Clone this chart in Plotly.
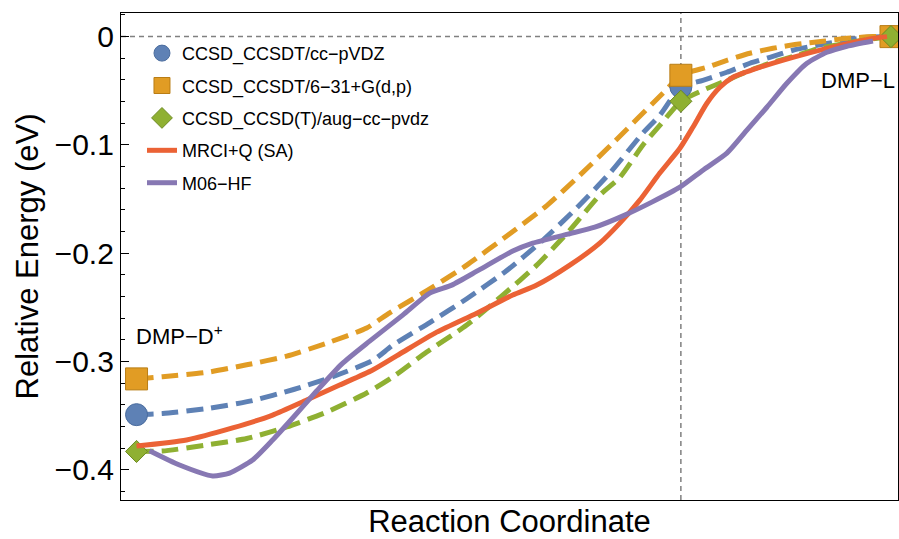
import plotly.graph_objects as go

# ---------------- data ----------------
# stationary points (reaction coordinate, relative energy in eV)
stat_x = [0.0, 0.7215, 1.0]
stat_pvdz = [-0.349, -0.0465, 0.0]
stat_631 = [-0.316, -0.0357, 0.0]
stat_aug = [-0.383, -0.0597, 0.0]

# dashed connecting curves
pvdz_x = [0.0, 0.0345, 0.0968, 0.1538, 0.207, 0.26, 0.313, 0.3395, 0.3886, 0.4377,
          0.4907, 0.5385, 0.5836, 0.6273, 0.671, 0.6936, 0.7215, 0.7507, 0.7825,
          0.813, 0.8395, 0.870, 0.9019, 0.9324, 0.9682, 1.0]
pvdz_y = [-0.349, -0.348, -0.343, -0.336, -0.326, -0.314, -0.299, -0.285, -0.264, -0.242,
          -0.216, -0.188, -0.158, -0.126, -0.0892, -0.0726, -0.0465, -0.0403, -0.0329,
          -0.0246, -0.0191, -0.0126, -0.008, -0.0043, -0.0006, 0.0]

b631_x = [0.0, 0.0345, 0.0928, 0.146, 0.199, 0.252, 0.305, 0.3355, 0.3886, 0.4377,
          0.4907, 0.5438, 0.5875, 0.6313, 0.6976, 0.7215, 0.756, 0.7825, 0.813,
          0.8435, 0.8753, 0.9098, 0.9416, 0.9761, 1.0]
b631_y = [-0.316, -0.314, -0.310, -0.303, -0.295, -0.283, -0.269, -0.255, -0.233, -0.211,
          -0.184, -0.156, -0.128, -0.0984, -0.0523, -0.0357, -0.0283, -0.0219, -0.0154,
          -0.0108, -0.0071, -0.0043, -0.0016, 0.0, 0.0]

aug_x = [0.0, 0.0345, 0.0928, 0.146, 0.199, 0.252, 0.305, 0.3395, 0.3846, 0.4377,
         0.4854, 0.5305, 0.5743, 0.614, 0.6406, 0.671, 0.6936, 0.7215, 0.7507, 0.7825,
         0.813, 0.8435, 0.8753, 0.9058, 0.939, 0.9708, 1.0]
aug_y = [-0.383, -0.3826, -0.377, -0.371, -0.3604, -0.3466, -0.329, -0.3143, -0.2912, -0.2663,
         -0.2387, -0.211, -0.1787, -0.1464, -0.130, -0.1003, -0.0819, -0.0597, -0.0495, -0.0403,
         -0.0311, -0.0237, -0.0173, -0.0108, -0.0062, -0.0025, 0.0]

mrci_x = [0.0, 0.0663, 0.1273, 0.1804, 0.2255, 0.2692, 0.313, 0.3488, 0.3979, 0.4509,
          0.4987, 0.5305, 0.5743, 0.614, 0.6406, 0.6671, 0.6936, 0.7202, 0.7374, 0.756,
          0.7732, 0.7905, 0.8263, 0.870, 0.9151, 0.9496, 0.9761, 0.9947]
mrci_y = [-0.378, -0.3724, -0.3613, -0.3494, -0.3355, -0.3217, -0.3078, -0.293, -0.2728, -0.2553,
          -0.2386, -0.2294, -0.211, -0.1907, -0.1722, -0.151, -0.126, -0.1031, -0.0837, -0.0615,
          -0.0468, -0.0375, -0.0283, -0.0191, -0.0108, -0.0053, -0.0016, 0.0]

m06_x = [0.0172, 0.057, 0.1008, 0.1233, 0.1538, 0.1804, 0.207, 0.2387, 0.2719, 0.309,
         0.3528, 0.3886, 0.4178, 0.4536, 0.4987, 0.5252, 0.5716, 0.6074, 0.6472, 0.683,
         0.7202, 0.7507, 0.7825, 0.809, 0.8355, 0.862, 0.8886, 0.9151, 0.9416, 0.9761]
m06_y = [-0.3823, -0.3955, -0.4056, -0.4029, -0.3909, -0.3724, -0.3521, -0.3272, -0.3023, -0.2811,
         -0.2571, -0.2368, -0.2294, -0.2156, -0.198, -0.1907, -0.1824, -0.1759, -0.1648, -0.1528,
         -0.139, -0.1233, -0.1076, -0.0864, -0.0652, -0.0431, -0.0246, -0.0145, -0.0089, -0.0041]

y_ticks = [-0.4, -0.3, -0.2, -0.1, 0.0]
y_tick_labels = ["\u22120.4", "\u22120.3", "\u22120.2", "\u22120.1", "0"]

# ---------------- styling ----------------
BLUE, ORANGE, GREEN = "#5E81B5", "#E19C24", "#8FB032"
RED, PURPLE = "#EB6235", "#8778B3"
FONT = "Liberation Sans, Arial, sans-serif"
DASH = "17px,8px"

fig = go.Figure()

for xs, ys, col in [(pvdz_x, pvdz_y, BLUE), (b631_x, b631_y, ORANGE), (aug_x, aug_y, GREEN)]:
    fig.add_trace(go.Scatter(x=xs, y=ys, mode="lines", showlegend=False, hoverinfo="skip",
                             line=dict(color=col, width=5, dash=DASH, shape="spline", smoothing=0.6)))

markers = [
    ("CCSD_CCSDT/cc\u2212pVDZ", stat_pvdz, BLUE, "#4a6c9e", "circle", 22),
    ("CCSD_CCSDT/6\u221231+G(d,p)", stat_631, ORANGE, "#b97d15", "square", 22),
    ("CCSD_CCSD(T)/aug\u2212cc\u2212pvdz", stat_aug, GREEN, "#6d8a22", "diamond", 17),
]
for i, (name, ys, col, edge, sym, sz) in enumerate(markers):
    fig.add_trace(go.Scatter(x=stat_x, y=ys, mode="markers", name=name, legendgroup=f"g{i}",
                             cliponaxis=False,
                             marker=dict(color=col, symbol=sym, size=sz,
                                         line=dict(color=edge, width=1))))

fig.add_trace(go.Scatter(x=mrci_x, y=mrci_y, mode="lines", name="MRCI+Q (SA)", legendgroup="g3",
                         line=dict(color=RED, width=5, shape="spline", smoothing=0.6)))
fig.add_trace(go.Scatter(x=m06_x, y=m06_y, mode="lines", name="M06\u2212HF", legendgroup="g4",
                         line=dict(color=PURPLE, width=5, shape="spline", smoothing=0.6)))

# reference lines
fig.add_hline(y=0, line=dict(color="#808080", width=1.5, dash="5px,4px"), layer="below")
fig.add_vline(x=stat_x[1], line=dict(color="#808080", width=1.5, dash="5px,4px"), layer="below")

fig.add_annotation(x=-0.004, y=-0.2756, xref="x", yref="y", xanchor="left", yanchor="middle",
                   text="DMP\u2212D<sup>+</sup>", showarrow=False,
                   font=dict(family=FONT, size=22, color="black"))
fig.add_annotation(x=1.008, y=-0.0408, xref="x", yref="y", xanchor="right", yanchor="middle",
                   text="DMP\u2212L", showarrow=False,
                   font=dict(family=FONT, size=22, color="black"))

fig.update_layout(
    width=899, height=539,
    margin=dict(l=121, r=1, t=13, b=39, autoexpand=False),
    paper_bgcolor="white", plot_bgcolor="white",
    font=dict(family=FONT, color="black"),
    showlegend=True,
    legend=dict(x=0.027, y=0.955, xanchor="left", yanchor="top",
                bgcolor="rgba(0,0,0,0)", font=dict(family=FONT, size=18, color="black"),
                tracegroupgap=6, itemsizing="trace"),
    xaxis=dict(range=[-0.0206, 1.0093], showticklabels=False, ticks="", showgrid=False,
               zeroline=False, showline=True, linecolor="black", linewidth=1.3, mirror=True,
               automargin=False,
               title=dict(text="Reaction Coordinate", font=dict(family=FONT, size=31), standoff=12)),
    yaxis=dict(range=[-0.4278, 0.0218], tickvals=y_ticks, ticktext=y_tick_labels,
               ticks="inside", ticklen=8, tickwidth=1, tickcolor="black",
               minor=dict(dtick=0.02, ticks="inside", ticklen=4, tickwidth=1, tickcolor="black", showgrid=False),
               showgrid=False, zeroline=False, showline=True, linecolor="black", linewidth=1.3,
               mirror=True, tickfont=dict(family=FONT, size=30), automargin=False,
               title=dict(text="Relative Energy (eV)", font=dict(family=FONT, size=31), standoff=6)),
)

fig.write_html("out.html", config={"displayModeBar": False},
               post_script="document.body.style.margin='0';document.body.style.padding='0';")
